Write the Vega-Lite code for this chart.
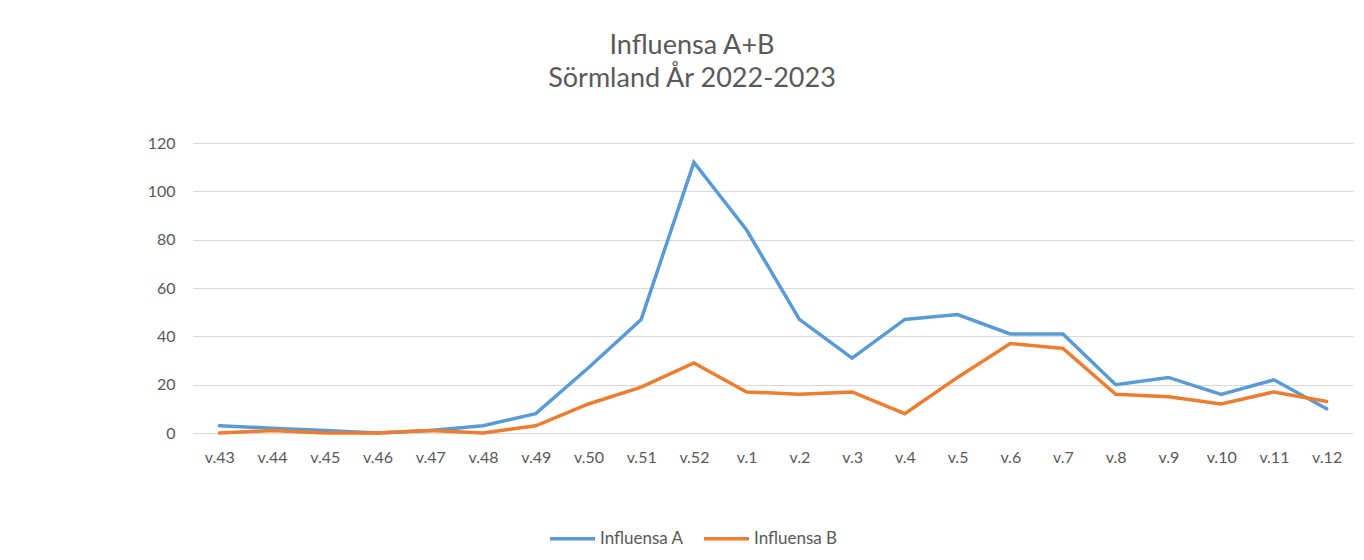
{
  "$schema": "https://vega.github.io/schema/vega-lite/v6.json",
  "autosize": {"type": "none"},
  "width": 1160,
  "height": 290,
  "padding": {"left": 193, "top": 143, "right": 11, "bottom": 127},
  "background": "white",
  "title": {
    "text": ["Influensa A+B", "Sörmland År 2022-2023"],
    "anchor": "middle",
    "dx": -81,
    "offset": 42,
    "font": "Lato",
    "fontSize": 27,
    "fontWeight": "normal",
    "color": "#595959",
    "lineHeight": 33
  },
  "data": {
    "values": [
      {"vecka": "v.43", "serie": "Influensa A", "antal": 3},
      {"vecka": "v.44", "serie": "Influensa A", "antal": 2},
      {"vecka": "v.45", "serie": "Influensa A", "antal": 1},
      {"vecka": "v.46", "serie": "Influensa A", "antal": 0},
      {"vecka": "v.47", "serie": "Influensa A", "antal": 1},
      {"vecka": "v.48", "serie": "Influensa A", "antal": 3},
      {"vecka": "v.49", "serie": "Influensa A", "antal": 8},
      {"vecka": "v.50", "serie": "Influensa A", "antal": 27},
      {"vecka": "v.51", "serie": "Influensa A", "antal": 47},
      {"vecka": "v.52", "serie": "Influensa A", "antal": 112},
      {"vecka": "v.1", "serie": "Influensa A", "antal": 84},
      {"vecka": "v.2", "serie": "Influensa A", "antal": 47},
      {"vecka": "v.3", "serie": "Influensa A", "antal": 31},
      {"vecka": "v.4", "serie": "Influensa A", "antal": 47},
      {"vecka": "v.5", "serie": "Influensa A", "antal": 49},
      {"vecka": "v.6", "serie": "Influensa A", "antal": 41},
      {"vecka": "v.7", "serie": "Influensa A", "antal": 41},
      {"vecka": "v.8", "serie": "Influensa A", "antal": 20},
      {"vecka": "v.9", "serie": "Influensa A", "antal": 23},
      {"vecka": "v.10", "serie": "Influensa A", "antal": 16},
      {"vecka": "v.11", "serie": "Influensa A", "antal": 22},
      {"vecka": "v.12", "serie": "Influensa A", "antal": 10},
      {"vecka": "v.43", "serie": "Influensa B", "antal": 0},
      {"vecka": "v.44", "serie": "Influensa B", "antal": 1},
      {"vecka": "v.45", "serie": "Influensa B", "antal": 0},
      {"vecka": "v.46", "serie": "Influensa B", "antal": 0},
      {"vecka": "v.47", "serie": "Influensa B", "antal": 1},
      {"vecka": "v.48", "serie": "Influensa B", "antal": 0},
      {"vecka": "v.49", "serie": "Influensa B", "antal": 3},
      {"vecka": "v.50", "serie": "Influensa B", "antal": 12},
      {"vecka": "v.51", "serie": "Influensa B", "antal": 19},
      {"vecka": "v.52", "serie": "Influensa B", "antal": 29},
      {"vecka": "v.1", "serie": "Influensa B", "antal": 17},
      {"vecka": "v.2", "serie": "Influensa B", "antal": 16},
      {"vecka": "v.3", "serie": "Influensa B", "antal": 17},
      {"vecka": "v.4", "serie": "Influensa B", "antal": 8},
      {"vecka": "v.5", "serie": "Influensa B", "antal": 23},
      {"vecka": "v.6", "serie": "Influensa B", "antal": 37},
      {"vecka": "v.7", "serie": "Influensa B", "antal": 35},
      {"vecka": "v.8", "serie": "Influensa B", "antal": 16},
      {"vecka": "v.9", "serie": "Influensa B", "antal": 15},
      {"vecka": "v.10", "serie": "Influensa B", "antal": 12},
      {"vecka": "v.11", "serie": "Influensa B", "antal": 17},
      {"vecka": "v.12", "serie": "Influensa B", "antal": 13}
    ]
  },
  "mark": {"type": "line", "strokeWidth": 3.5, "strokeJoin": "miter", "strokeCap": "round"},
  "encoding": {
    "x": {
      "field": "vecka",
      "type": "ordinal",
      "sort": null,
      "scale": {"type": "point", "padding": 0.5},
      "axis": {
        "title": null,
        "labelAngle": 0,
        "ticks": false,
        "domain": false,
        "grid": false,
        "labelFont": "Lato",
        "labelFontSize": 16,
        "labelColor": "#595959",
        "labelPadding": 16
      }
    },
    "y": {
      "field": "antal",
      "type": "quantitative",
      "scale": {"domain": [0, 120], "nice": false},
      "axis": {
        "title": null,
        "values": [0, 20, 40, 60, 80, 100, 120],
        "ticks": false,
        "domain": false,
        "grid": true,
        "gridColor": "#d9d9d9",
        "gridWidth": 1,
        "labelFont": "Lato",
        "labelFontSize": 16,
        "labelColor": "#595959",
        "labelPadding": 18
      }
    },
    "color": {
      "field": "serie",
      "type": "nominal",
      "scale": {"domain": ["Influensa A", "Influensa B"], "range": ["#5b9bd5", "#ed7d31"]},
      "legend": {
        "title": null,
        "orient": "none",
        "direction": "horizontal",
        "legendX": 355,
        "legendY": 371,
        "symbolType": "stroke",
        "symbolSize": 2025,
        "symbolStrokeWidth": 3.5,
        "labelFont": "Lato",
        "labelFontSize": 17,
        "labelColor": "#595959",
        "labelOffset": 3,
        "columnPadding": 13
      }
    }
  },
  "config": {"view": {"stroke": null}}
}
